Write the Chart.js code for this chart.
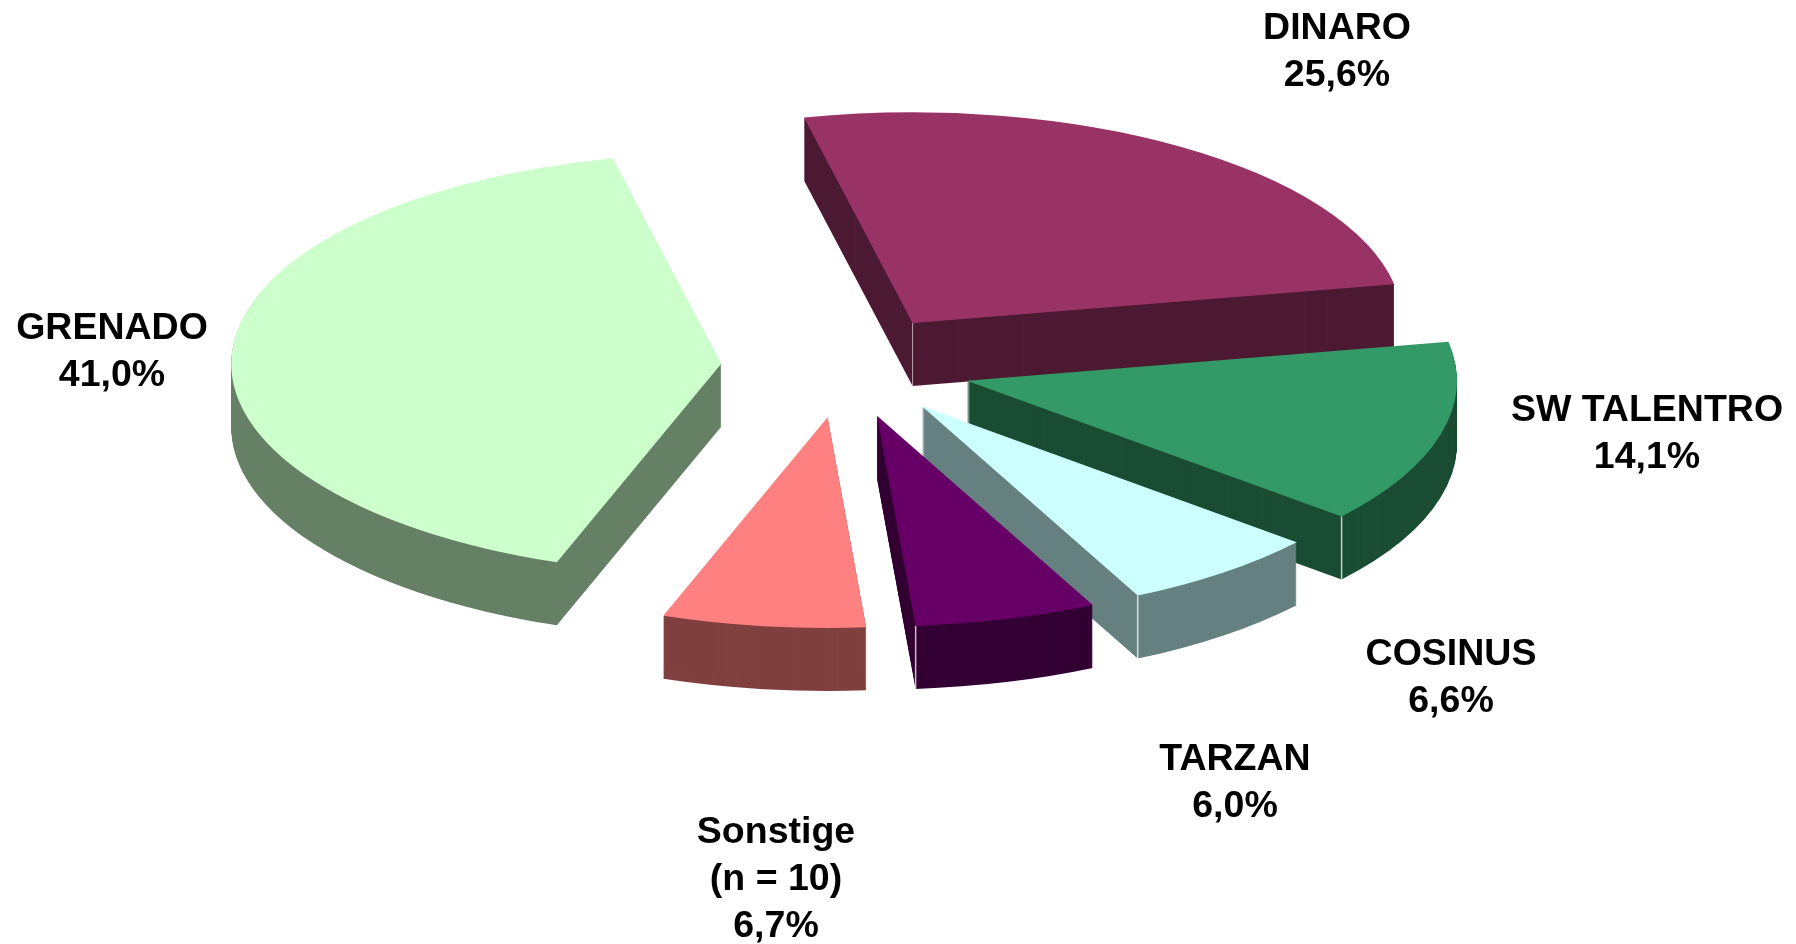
<!DOCTYPE html>
<html>
<head>
<meta charset="utf-8">
<style>
    html, body { margin: 0; padding: 0; background: #ffffff; overflow: hidden; }
    #wrap { width: 1796px; height: 944px; }
</style>
</head>
<body>
<div id="wrap"><canvas id="pieCanvas" width="1796" height="944"></canvas></div>
<script src="https://cdn.jsdelivr.net/npm/chart.js@4/dist/chart.umd.min.js"></script>
<script>
const categories = ['DINARO', 'SW TALENTRO', 'COSINUS', 'TARZAN', 'Sonstige', 'GRENADO'];
const shares = [25.6, 14.1, 6.6, 6.0, 6.7, 41.0];
const labelLines = [['DINARO'], ['SW TALENTRO'], ['COSINUS'], ['TARZAN'], ['Sonstige', '(n = 10)'], ['GRENADO']];

const topColors = ['#993366', '#339966', '#CCFFFF', '#660066', '#FF8080', '#CCFFCC'];
const wallColors = ['#4D1A33', '#1A4D33', '#668080', '#330033', '#804040', '#668066'];
// which rim corner gets the light vertical line
const cornerEdges = ['apex', 'end', 'end', 'end', 'start', 'apex'];
// centre of the first text line of every label
const labelAnchors = [[1337, 29], [1647, 411], [1451, 655], [1235, 760], [776, 833], [112, 329]];
// small shifts, the original has some perspective that a flat ellipse does not
const sliceNudges = [[0, 4], [2, 3], [1, 0], [0, 0], [0, 0], [2, 3]];

const PIE_RADIUS = 490;
const SQUASH = 0.43;
const EXPLODE = 125;
const DEPTH = 63;
const LINE_HEIGHT = 47;

function placeSlice(ctx, arc, i, scaleX, down) {
    const mid = (arc.startAngle + arc.endAngle) / 2;
    ctx.translate(arc.x + Math.cos(mid) * EXPLODE + sliceNudges[i][0],
        arc.y + Math.sin(mid) * EXPLODE * SQUASH + sliceNudges[i][1] + down);
    ctx.scale(scaleX, scaleX * SQUASH);
    ctx.translate(-arc.x, -arc.y);
}

const exploded3d = {
    id: 'exploded3d',
    beforeDatasetsDraw(chart) {
        const ctx = chart.ctx;
        const arcs = chart.getDatasetMeta(0).data;
        // back to front so the nearer slices cover the walls behind them
        arcs.forEach((arc, i) => {
            const scaleX = PIE_RADIUS / arc.outerRadius;
            const topOptions = arc.options;

            // the wall is the same slice stamped again and again
            arc.options = Object.assign({}, topOptions, { backgroundColor: wallColors[i] });
            for (let d = DEPTH; d >= 1; d--) {
                ctx.save();
                placeSlice(ctx, arc, i, scaleX, d);
                arc.draw(ctx);
                ctx.restore();
            }
            arc.options = topOptions;

            ctx.save();
            placeSlice(ctx, arc, i, scaleX, 0);
            arc.draw(ctx);
            ctx.restore();

            // light line on the front corner
            const mid = (arc.startAngle + arc.endAngle) / 2;
            let px = Math.cos(mid) * EXPLODE + sliceNudges[i][0];
            let py = Math.sin(mid) * EXPLODE * SQUASH + sliceNudges[i][1];
            if (cornerEdges[i] !== 'apex') {
                const a = cornerEdges[i] === 'end' ? arc.endAngle : arc.startAngle;
                px += Math.cos(a) * PIE_RADIUS;
                py += Math.sin(a) * PIE_RADIUS * SQUASH;
            }
            ctx.save();
            ctx.strokeStyle = 'rgba(255, 255, 255, 0.75)';
            ctx.lineWidth = cornerEdges[i] === 'end' ? 1.5 : 0.8;
            ctx.beginPath();
            ctx.moveTo(arc.x + px, arc.y + py);
            ctx.lineTo(arc.x + px, arc.y + py + DEPTH);
            ctx.stroke();
            ctx.restore();
        });
        return false;
    },
    afterDraw(chart) {
        const ctx = chart.ctx;
        ctx.save();
        ctx.fillStyle = '#000000';
        ctx.font = 'bold 37.5px "Liberation Sans", Arial, sans-serif';
        ctx.textAlign = 'center';
        ctx.textBaseline = 'middle';
        categories.forEach((name, i) => {
            const lines = labelLines[i].concat(shares[i].toFixed(1).replace('.', ',') + '%');
            lines.forEach((line, k) => {
                ctx.fillText(line, labelAnchors[i][0], labelAnchors[i][1] + k * LINE_HEIGHT);
            });
        });
        ctx.restore();
    }
};

new Chart(document.getElementById('pieCanvas').getContext('2d'), {
    type: 'pie',
    data: {
        labels: categories,
        datasets: [{ data: shares, backgroundColor: topColors, borderWidth: 0 }]
    },
    options: {
        responsive: false,
        animation: false,
        events: [],
        rotation: -12.8,
        // chart area centred on the middle of the pie
        layout: { padding: { left: 0, top: 0, right: 108, bottom: 216 } },
        plugins: { legend: { display: false }, tooltip: { enabled: false } }
    },
    plugins: [exploded3d]
});
</script>
</body>
</html>
